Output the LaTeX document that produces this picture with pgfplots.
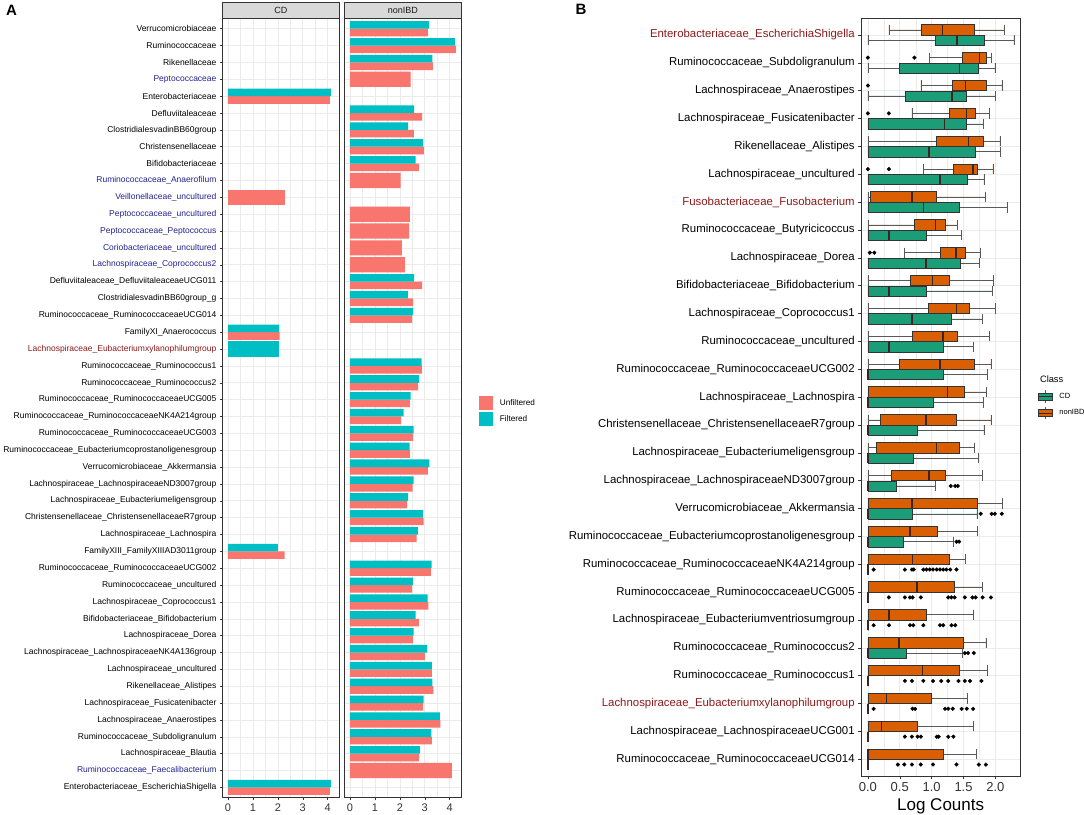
\documentclass[border=0pt]{standalone}
\usepackage{fontspec}
\setmainfont{Liberation Sans}
\usepackage{pgfplots}
\pgfplotsset{compat=1.18}
\usepgfplotslibrary{statistics}

\definecolor{unf}{HTML}{F8766D}
\definecolor{fil}{HTML}{00BFC4}
\definecolor{cdg}{HTML}{1B9E77}
\definecolor{nonibd}{HTML}{D95F02}
\definecolor{gridc}{HTML}{EBEBEB}
\definecolor{g20}{HTML}{333333}
\definecolor{g35}{HTML}{595959}
\definecolor{stripc}{HTML}{D9D9D9}
\definecolor{medc}{HTML}{3A2424}
\definecolor{lblue}{HTML}{23238E}
\definecolor{lred}{HTML}{8B1A1A}

\pgfplotsset{
  facet/.style={
    scale only axis, y dir=reverse,
    axis background/.style={fill=white},
    grid=both,
    major grid style={draw=gridc, line width=0.6pt},
    minor grid style={draw=gridc, line width=0.3pt},
    axis line style={draw=g20, line width=0.6pt},
    tick align=outside, major tick length=2.75pt, minor tick length=0pt,
    tick style={draw=g20, line width=0.5pt},
    xtick pos=left, ytick pos=left,
    /pgf/number format/assume math mode=true,
  },
  bx/.style={
    draw=g20, line width=0.6pt,
    mark=*, mark size=1.9pt, mark options={fill=black, draw=black, line width=0.3pt},
    boxplot/box extend=0.37, boxplot/whisker extend=0.37,
    boxplot/every whisker/.style={draw=g35, line width=0.6pt},
    boxplot/every median/.style={draw=medc, line width=1.4pt},
  },
}

% \bxp{colour}{position}{lower whisker}{lower quartile}{median}{upper quartile}{upper whisker}{outliers}
\newcommand{\bxp}[8]{\addplot[bx, fill=#1, boxplot prepared={draw position=#2,
  lower whisker=#3, lower quartile=#4, median=#5, upper quartile=#6, upper whisker=#7}]
  coordinates {#8};}

\begin{document}
\begin{tikzpicture}
\fill[white] (0,0) rectangle (1084pt,-814pt);

% ---------------- panel A ----------------
\node[anchor=west, font=\fontsize{15}{15}\selectfont\bfseries] at (2.5pt,-10.7pt) {A};
\draw[g20, fill=stripc, line width=0.6pt] (222.7pt,-2pt) rectangle (339.2pt,-18.6pt);
\draw[g20, fill=stripc, line width=0.6pt] (344.7pt,-2pt) rectangle (461.2pt,-18.6pt);
\node[font=\fontsize{9}{9}\selectfont, text=black!90] at (280.95pt,-10.3pt) {CD};
\node[font=\fontsize{9}{9}\selectfont, text=black!90] at (402.95pt,-10.3pt) {nonIBD};

\begin{axis}[facet,
  at={(222.7pt,-797.5pt)}, anchor=south west,
  width=116.5pt, height=778.9pt,
  xmin=-0.2125, xmax=4.4625, ymin=0.4, ymax=46.6,
  xtick={0,1,2,3,4}, minor x tick num=1,
  xticklabel style={font=\fontsize{11}{11}\selectfont, text=g20},
  ytick={1,...,46},
  yticklabel style={font=\fontsize{8.5}{9}\selectfont, text=black},
  yticklabels={Verrucomicrobiaceae, Ruminococcaceae, Rikenellaceae,
    \textcolor{lblue}{Peptococcaceae}, Enterobacteriaceae, Defluviitaleaceae,
    ClostridialesvadinBB60group, Christensenellaceae, Bifidobacteriaceae,
    \textcolor{lblue}{Ruminococcaceae\_Anaerofilum},
    \textcolor{lblue}{Veillonellaceae\_uncultured},
    \textcolor{lblue}{Peptococcaceae\_uncultured},
    \textcolor{lblue}{Peptococcaceae\_Peptococcus},
    \textcolor{lblue}{Coriobacteriaceae\_uncultured},
    \textcolor{lblue}{Lachnospiraceae\_Coprococcus2},
    Defluviitaleaceae\_DefluviitaleaceaeUCG011,
    ClostridialesvadinBB60group\_g,
    Ruminococcaceae\_RuminococcaceaeUCG014,
    FamilyXI\_Anaerococcus,
    \textcolor{lred}{Lachnospiraceae\_Eubacteriumxylanophilumgroup},
    Ruminococcaceae\_Ruminococcus1,
    Ruminococcaceae\_Ruminococcus2,
    Ruminococcaceae\_RuminococcaceaeUCG005,
    Ruminococcaceae\_RuminococcaceaeNK4A214group,
    Ruminococcaceae\_RuminococcaceaeUCG003,
    Ruminococcaceae\_Eubacteriumcoprostanoligenesgroup,
    Verrucomicrobiaceae\_Akkermansia,
    Lachnospiraceae\_LachnospiraceaeND3007group,
    Lachnospiraceae\_Eubacteriumeligensgroup,
    Christensenellaceae\_ChristensenellaceaeR7group,
    Lachnospiraceae\_Lachnospira,
    FamilyXIII\_FamilyXIIIAD3011group,
    Ruminococcaceae\_RuminococcaceaeUCG002,
    Ruminococcaceae\_uncultured,
    Lachnospiraceae\_Coprococcus1,
    Bifidobacteriaceae\_Bifidobacterium,
    Lachnospiraceae\_Dorea,
    Lachnospiraceae\_LachnospiraceaeNK4A136group,
    Lachnospiraceae\_uncultured,
    Rikenellaceae\_Alistipes,
    Lachnospiraceae\_Fusicatenibacter,
    Lachnospiraceae\_Anaerostipes,
    Ruminococcaceae\_Subdoligranulum,
    Lachnospiraceae\_Blautia,
    \textcolor{lblue}{Ruminococcaceae\_Faecalibacterium},
    Enterobacteriaceae\_EscherichiaShigella},
]
% Unfiltered, paired rows
\addplot[xbar, fill=unf, draw=none, bar width=0.45, bar shift=0.225]
  coordinates {(4.09,5) (2.07,19) (2.27,32) (4.09,46)};
% Filtered, paired rows
\addplot[xbar, fill=fil, draw=none, bar width=0.45, bar shift=-0.225]
  coordinates {(4.13,5) (2.05,19) (2.00,32) (4.13,46)};
% single bars
\addplot[xbar, fill=unf, draw=none, bar width=0.9, bar shift=0]
  coordinates {(2.27,11)};
\addplot[xbar, fill=fil, draw=none, bar width=0.9, bar shift=0]
  coordinates {(2.03,20)};
\end{axis}

\begin{axis}[facet,
  at={(344.7pt,-797.5pt)}, anchor=south west,
  width=116.5pt, height=778.9pt,
  xmin=-0.2125, xmax=4.4625, ymin=0.4, ymax=46.6,
  xtick={0,1,2,3,4}, minor x tick num=1,
  xticklabel style={font=\fontsize{11}{11}\selectfont, text=g20},
  ytick={1,...,46}, yticklabels={}, y tick style={draw=none},
  legend style={at={(1.1468,0.5159)}, anchor=north west, draw=none, fill=none,
    inner sep=0pt, row sep=1.6pt, font=\fontsize{8.2}{9}\selectfont,
    /tikz/every odd column/.append style={column sep=5pt}},
  legend cell align=left,
  legend image code/.code={\fill (0pt,-7.2pt) rectangle (14.4pt,7.2pt);},
]
\addplot[xbar, fill=unf, draw=none, bar width=0.45, bar shift=0.225]
  coordinates {(3.13,1) (4.25,2) (3.33,3) (2.89,6) (2.56,7) (2.96,8) (2.76,9)
    (2.89,16) (2.53,17) (2.49,18) (2.88,21) (2.73,22) (2.40,23) (2.05,24)
    (2.53,25) (2.40,26) (3.13,27) (2.51,28) (2.29,29) (2.95,30) (2.67,31)
    (3.25,33) (2.49,34) (3.15,35) (2.76,36) (2.52,37) (3.00,38) (3.29,39)
    (3.35,40) (2.93,41) (3.63,42) (3.29,43) (2.77,44)};
\addlegendentry{Unfiltered}
\addplot[xbar, fill=fil, draw=none, bar width=0.45, bar shift=-0.225]
  coordinates {(3.17,1) (4.21,2) (3.31,3) (2.57,6) (2.33,7) (2.93,8) (2.63,9)
    (2.57,16) (2.32,17) (2.53,18) (2.87,21) (2.76,22) (2.43,23) (2.15,24)
    (2.55,25) (2.39,26) (3.19,27) (2.55,28) (2.33,29) (2.92,30) (2.72,31)
    (3.28,33) (2.52,34) (3.12,35) (2.63,36) (2.55,37) (3.09,38) (3.29,39)
    (3.31,40) (2.95,41) (3.61,42) (3.27,43) (2.80,44)};
\addlegendentry{Filtered}
\addplot[xbar, fill=unf, draw=none, bar width=0.9, bar shift=0, forget plot]
  coordinates {(2.43,4) (2.03,10) (2.40,12) (2.37,13) (2.08,14) (2.20,15) (4.09,45)};
\end{axis}

% ---------------- panel B ----------------
\node[anchor=west, font=\fontsize{15}{15}\selectfont\bfseries] at (572pt,-9.5pt) {B};
\node[anchor=west, font=\fontsize{9.3}{10}\selectfont] at (1036.5pt,-379pt) {Class};

\begin{axis}[facet,
  at={(861pt,-776pt)}, anchor=south west,
  width=159.3pt, height=757.7pt,
  xmin=-0.108, xmax=2.39, ymin=0.4, ymax=27.6,
  xtick={0,0.5,1,1.5,2}, xticklabels={0.0,0.5,1.0,1.5,2.0}, minor x tick num=1,
  xticklabel style={font=\fontsize{13}{13}\selectfont, text=g20},
  xlabel={Log Counts}, xlabel style={font=\fontsize{17}{17}\selectfont, yshift=0pt},
  ytick={1,...,27},
  yticklabel style={font=\fontsize{11.4}{12}\selectfont, text=black},
  yticklabels={\textcolor{lred}{Enterobacteriaceae\_EscherichiaShigella},
    Ruminococcaceae\_Subdoligranulum,
    Lachnospiraceae\_Anaerostipes,
    Lachnospiraceae\_Fusicatenibacter,
    Rikenellaceae\_Alistipes,
    Lachnospiraceae\_uncultured,
    \textcolor{lred}{Fusobacteriaceae\_Fusobacterium},
    Ruminococcaceae\_Butyricicoccus,
    Lachnospiraceae\_Dorea,
    Bifidobacteriaceae\_Bifidobacterium,
    Lachnospiraceae\_Coprococcus1,
    Ruminococcaceae\_uncultured,
    Ruminococcaceae\_RuminococcaceaeUCG002,
    Lachnospiraceae\_Lachnospira,
    Christensenellaceae\_ChristensenellaceaeR7group,
    Lachnospiraceae\_Eubacteriumeligensgroup,
    Lachnospiraceae\_LachnospiraceaeND3007group,
    Verrucomicrobiaceae\_Akkermansia,
    Ruminococcaceae\_Eubacteriumcoprostanoligenesgroup,
    Ruminococcaceae\_RuminococcaceaeNK4A214group,
    Ruminococcaceae\_RuminococcaceaeUCG005,
    Lachnospiraceae\_Eubacteriumventriosumgroup,
    Ruminococcaceae\_Ruminococcus2,
    Ruminococcaceae\_Ruminococcus1,
    \textcolor{lred}{Lachnospiraceae\_Eubacteriumxylanophilumgroup},
    Lachnospiraceae\_LachnospiraceaeUCG001,
    Ruminococcaceae\_RuminococcaceaeUCG014},
  legend style={at={(1.1093,0.5098)}, anchor=north west, draw=none, fill=none,
    inner sep=0pt, row sep=3.4pt, font=\fontsize{7.5}{8}\selectfont,
    /tikz/every odd column/.append style={column sep=5pt}},
  legend cell align=left,
]
\addlegendimage{legend image code/.code={
  \draw[g35, line width=0.6pt] (6.65pt,-6.3pt) -- (6.65pt,6.3pt);
  \filldraw[fill=cdg, draw=g20, line width=0.6pt] (0pt,-3.6pt) rectangle (13.3pt,3.6pt);
  \draw[medc, line width=1.2pt] (0pt,0pt) -- (13.3pt,0pt);}}
\addlegendentry{CD}
\addlegendimage{legend image code/.code={
  \draw[g35, line width=0.6pt] (6.65pt,-6.3pt) -- (6.65pt,6.3pt);
  \filldraw[fill=nonibd, draw=g20, line width=0.6pt] (0pt,-3.6pt) rectangle (13.3pt,3.6pt);
  \draw[medc, line width=1.2pt] (0pt,0pt) -- (13.3pt,0pt);}}
\addlegendentry{nonIBD}

% rows: nonIBD (orange) at row-0.1875, CD (green) at row+0.1875
\bxp{nonibd}{0.8125}{0.33}{0.84}{1.17}{1.67}{2.14}{}
\bxp{cdg}{1.1875}{0}{1.05}{1.40}{1.83}{2.29}{}
\bxp{nonibd}{1.8125}{0.96}{1.48}{1.75}{1.86}{1.94}{(0,0) (0,0.73)}
\bxp{cdg}{2.1875}{0}{0.50}{1.44}{1.73}{1.99}{}
\bxp{nonibd}{2.8125}{0.83}{1.32}{1.53}{1.85}{2.10}{(0,0)}
\bxp{cdg}{3.1875}{0}{0.58}{1.32}{1.55}{2.00}{}
\bxp{nonibd}{3.8125}{0.69}{1.27}{1.55}{1.68}{1.90}{(0,0) (0,0.33)}
\bxp{cdg}{4.1875}{0}{0}{1.20}{1.55}{1.81}{}
\bxp{nonibd}{4.8125}{0}{1.08}{1.58}{1.81}{2.07}{}
\bxp{cdg}{5.1875}{0}{0}{0.96}{1.69}{2.08}{}
\bxp{nonibd}{5.8125}{0.87}{1.34}{1.65}{1.71}{1.96}{(0,0) (0,0.33)}
\bxp{cdg}{6.1875}{0}{0}{1.13}{1.56}{1.82}{}
\bxp{nonibd}{6.8125}{0}{0.03}{0.69}{1.08}{1.84}{}
\bxp{cdg}{7.1875}{0}{0}{0.87}{1.44}{2.19}{}
\bxp{nonibd}{7.8125}{0}{0.72}{1.06}{1.21}{1.40}{}
\bxp{cdg}{8.1875}{0}{0}{0.33}{0.92}{1.47}{}
\bxp{nonibd}{8.8125}{0.57}{1.13}{1.38}{1.53}{1.76}{(0,0.03) (0,0.10)}
\bxp{cdg}{9.1875}{0}{0}{0.91}{1.45}{1.75}{}
\bxp{nonibd}{9.8125}{0}{0.66}{1.01}{1.28}{1.97}{}
\bxp{cdg}{10.1875}{0}{0}{0.33}{0.91}{1.95}{}
\bxp{nonibd}{10.8125}{0}{0.95}{1.39}{1.59}{2.00}{}
\bxp{cdg}{11.1875}{0}{0}{0.69}{1.31}{1.80}{}
\bxp{nonibd}{11.8125}{0}{0.69}{1.18}{1.40}{1.91}{}
\bxp{cdg}{12.1875}{0}{0}{0.33}{1.18}{1.65}{}
\bxp{nonibd}{12.8125}{0}{0.50}{1.13}{1.67}{1.93}{}
\bxp{cdg}{13.1875}{0}{0}{0}{1.18}{1.88}{}
\bxp{nonibd}{13.8125}{0}{0}{1.25}{1.51}{1.86}{}
\bxp{cdg}{14.1875}{0}{0}{0}{1.03}{1.81}{}
\bxp{nonibd}{14.8125}{0}{0.20}{0.91}{1.39}{1.93}{}
\bxp{cdg}{15.1875}{0}{0}{0}{0.77}{1.82}{}
\bxp{nonibd}{15.8125}{0}{0.125}{1.08}{1.44}{1.67}{}
\bxp{cdg}{16.1875}{0}{0}{0}{0.71}{1.73}{}
\bxp{nonibd}{16.8125}{0}{0.36}{0.96}{1.22}{1.80}{}
\bxp{cdg}{17.1875}{0}{0}{0}{0.44}{1.06}{(0,1.30) (0,1.37) (0,1.41)}
\bxp{nonibd}{17.8125}{0}{0}{0.69}{1.71}{2.11}{}
\bxp{cdg}{18.1875}{0}{0}{0}{0.69}{1.71}{(0,1.77) (0,1.94) (0,1.99) (0,2.10)}
\bxp{nonibd}{18.8125}{0}{0}{0.66}{1.09}{1.72}{}
\bxp{cdg}{19.1875}{0}{0}{0}{0.55}{1.34}{(0,1.39) (0,1.43)}
\bxp{nonibd}{19.8125}{0}{0}{0.70}{1.28}{1.53}{}
\bxp{cdg}{20.1875}{0}{0}{0}{0}{0}{(0,0.09) (0,0.58) (0,0.69) (0,0.72) (0,0.87) (0,0.92) (0,0.97) (0,1.02) (0,1.08) (0,1.13) (0,1.18) (0,1.23) (0,1.29) (0,1.39)}
\bxp{nonibd}{20.8125}{0}{0}{0.77}{1.36}{1.79}{}
\bxp{cdg}{21.1875}{0}{0}{0}{0}{0}{(0,0.33) (0,0.58) (0,0.66) (0,0.70) (0,0.83) (0,1.26) (0,1.31) (0,1.36) (0,1.52) (0,1.64) (0,1.69) (0,1.80) (0,1.93)}
\bxp{nonibd}{21.8125}{0}{0}{0.33}{0.91}{1.66}{}
\bxp{cdg}{22.1875}{0}{0}{0}{0}{0}{(0,0.09) (0,0.33) (0,0.66) (0,0.71) (0,0.87) (0,1.13) (0,1.18) (0,1.31) (0,1.37)}
\bxp{nonibd}{22.8125}{0}{0}{0.49}{1.49}{1.85}{}
\bxp{cdg}{23.1875}{0}{0}{0}{0.60}{1.48}{(0,1.52) (0,1.57) (0,1.66)}
\bxp{nonibd}{23.8125}{0}{0}{0.86}{1.44}{1.87}{}
\bxp{cdg}{24.1875}{0}{0}{0}{0}{0}{(0,0.58) (0,0.69) (0,0.87) (0,1.02) (0,1.15) (0,1.26) (0,1.42) (0,1.52) (0,1.60) (0,1.78)}
\bxp{nonibd}{24.8125}{0}{0}{0.29}{0.99}{1.56}{}
\bxp{cdg}{25.1875}{0}{0}{0}{0}{0}{(0,0.09) (0,0.70) (0,0.74) (0,1.21) (0,1.26) (0,1.33) (0,1.47) (0,1.55) (0,1.65)}
\bxp{nonibd}{25.8125}{0}{0}{0.21}{0.78}{1.66}{}
\bxp{cdg}{26.1875}{0}{0}{0}{0}{0}{(0,0.58) (0,0.69) (0,0.78) (0,0.83) (0,1.08) (0,1.11) (0,1.26) (0,1.34)}
\bxp{nonibd}{26.8125}{0}{0}{0}{1.18}{1.70}{}
\bxp{cdg}{27.1875}{0}{0}{0}{0}{0}{(0,0.47) (0,0.57) (0,0.69) (0,0.83) (0,1.02) (0,1.39) (0,1.74) (0,1.85)}
\end{axis}

\pgfresetboundingbox
\path (0,0) rectangle (1084pt,-814pt);
\end{tikzpicture}
\end{document}
